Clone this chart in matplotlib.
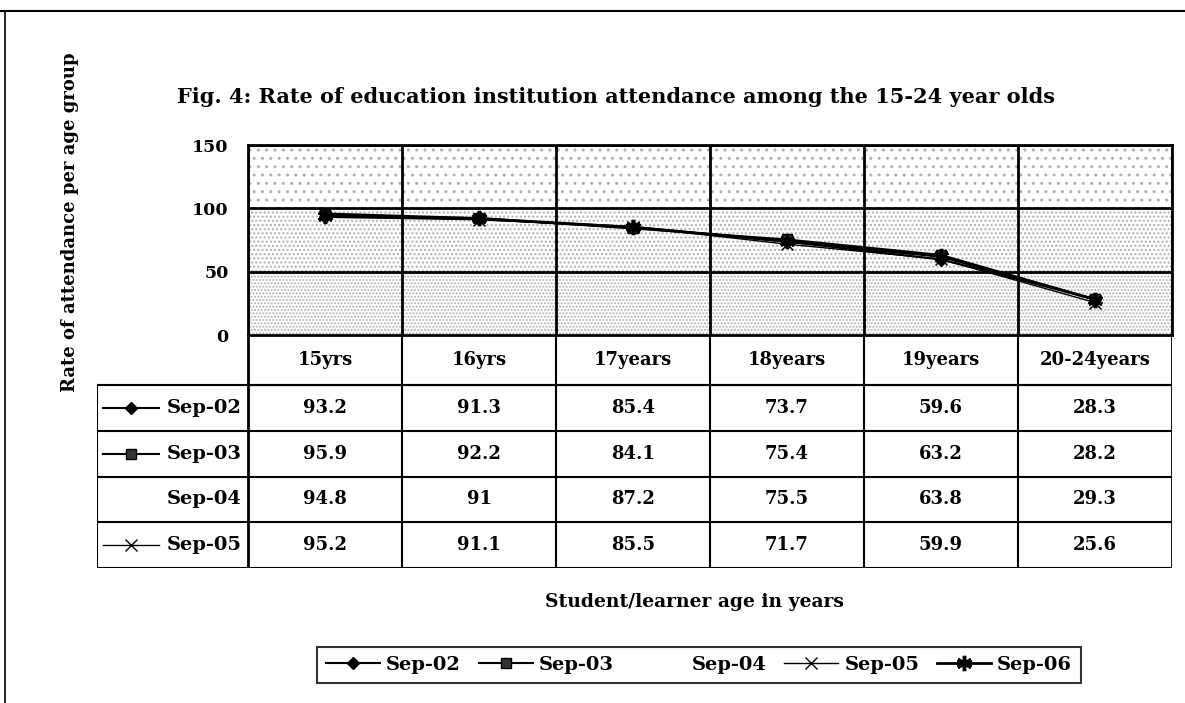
import matplotlib.pyplot as plt
from matplotlib.patches import Rectangle
from matplotlib.lines import Line2D

plt.rcParams['font.family'] = ['DejaVu Serif']
plt.rcParams['font.weight'] = 'bold'

ages = ['15yrs', '16yrs', '17years', '18years', '19years', '20-24years']
series_names = ['Sep-02', 'Sep-03', 'Sep-04', 'Sep-05', 'Sep-06']
sep02 = [93.2, 91.3, 85.4, 73.7, 59.6, 28.3]
sep03 = [95.9, 92.2, 84.1, 75.4, 63.2, 28.2]
sep04 = [94.8, 91, 87.2, 75.5, 63.8, 29.3]
sep05 = [95.2, 91.1, 85.5, 71.7, 59.9, 25.6]
sep06 = [94.0, 92.0, 85.0, 74.0, 62.0, 28.0]  # not in table
table_rows = ['Sep-02', 'Sep-03', 'Sep-04', 'Sep-05']
table_txt = [['93.2', '91.3', '85.4', '73.7', '59.6', '28.3'],
             ['95.9', '92.2', '84.1', '75.4', '63.2', '28.2'],
             ['94.8', '91', '87.2', '75.5', '63.8', '29.3'],
             ['95.2', '91.1', '85.5', '71.7', '59.9', '25.6']]

styles = {
    'Sep-02': dict(color='black', marker='D', ms=6, lw=1.5),
    'Sep-03': dict(color='black', marker='s', ms=7, mfc='#333333', lw=1.5),
    'Sep-04': dict(color='none', marker='None', lw=1.5),
    'Sep-05': dict(color='black', marker='x', ms=8, lw=1.0),
    'Sep-06': dict(color='black', marker=(6, 2, 0), ms=11, mew=2.5, lw=2.0),
}

W, H = 1185, 703
fig = plt.figure(figsize=(W / 100, H / 100), dpi=100)

# outer frame (top and left edges visible in the scan)
fig.add_artist(Line2D([0, 1], [1 - 11 / H, 1 - 11 / H], transform=fig.transFigure, color='black', lw=1.5))
fig.add_artist(Line2D([5 / W, 5 / W], [0, 1 - 11 / H], transform=fig.transFigure, color='black', lw=1.2))

# plot area in pixel units
px0, px1, py_top, py_bot = 248, 1172, 145, 335
ax = fig.add_axes([px0 / W, 1 - py_bot / H, (px1 - px0) / W, (py_bot - py_top) / H])
ax.set_xlim(-0.5, len(ages) - 0.5)
ax.set_ylim(0, 150)

# speckled background bands
for lo, hi, hatch in [(0, 50, '.....'), (50, 100, '....'), (100, 150, '..')]:
    ax.add_patch(Rectangle((-0.5, lo), len(ages), hi - lo, facecolor='white',
                           edgecolor='#b0b0b0', hatch=hatch, lw=0, zorder=0))

for y in [50, 100, 150]:
    ax.axhline(y, color='black', lw=2, zorder=1)
for i in range(len(ages) + 1):
    ax.axvline(i - 0.5, color='black', lw=2, zorder=1)

x = range(len(ages))
all_series = [sep02, sep03, sep04, sep05, sep06]
handles = []
for name, vals in zip(series_names, all_series):
    h, = ax.plot(x, vals, label=name, zorder=3, **styles[name])
    handles.append(h)

ax.set_yticks([0, 50, 100, 150])
ax.set_yticklabels(['0', '50', '100', '150'], fontsize=12.5, fontweight='bold')
ax.set_xticks([])
ax.tick_params(axis='y', length=0, pad=14)
for s in ax.spines.values():
    s.set_linewidth(2)

# data table below the plot
tx0, ty_top, ty_bot = 97, 335, 568
tax = fig.add_axes([tx0 / W, 1 - ty_bot / H, (px1 - tx0) / W, (ty_bot - ty_top) / H])
cw = (px1 - px0) / len(ages)
lab_w = (px0 - tx0) / cw
tax.set_xlim(-0.5 - lab_w, len(ages) - 0.5)
header_h = 50
row_h = (ty_bot - ty_top - header_h) / len(table_rows)
tax.set_ylim(ty_bot - ty_top, 0)
tax.axis('off')

lw = 1.5
for i in range(len(ages) + 1):
    tax.plot([i - 0.5, i - 0.5], [0, ty_bot - ty_top], color='black', lw=lw if 0 < i < len(ages) else 2)
tax.plot([-0.5, len(ages) - 0.5], [header_h, header_h], color='black', lw=lw)
for r in range(len(table_rows) + 1):
    yy = header_h + r * row_h
    tax.plot([-0.5 - lab_w, len(ages) - 0.5], [yy, yy], color='black', lw=lw)
tax.plot([-0.5 - lab_w, -0.5 - lab_w], [header_h, ty_bot - ty_top], color='black', lw=lw)

for i, a in enumerate(ages):
    tax.text(i, header_h / 2, a, ha='center', va='center', fontsize=13, fontweight='bold')
for r, (name, row) in enumerate(zip(table_rows, table_txt)):
    yc = header_h + (r + 0.5) * row_h
    for i, v in enumerate(row):
        tax.text(i, yc, v, ha='center', va='center', fontsize=13, fontweight='bold')
    tax.text(-0.5 - 0.04, yc, name, ha='right', va='center', fontsize=14, fontweight='bold')
    st = dict(styles[name])
    if st['color'] != 'none':
        xl0 = -0.5 - lab_w + 0.04
        tax.plot([xl0, xl0 + 0.36], [yc, yc], color='black', lw=st['lw'])
        st.pop('lw')
        tax.plot([xl0 + 0.18], [yc], linestyle='none', **st)

fig.text(70 / W, 1 - 222 / H, 'Rate of attendance per age group', rotation=90,
         ha='center', va='center', fontsize=13, fontweight='bold')
fig.text(616 / W, 1 - 97 / H, 'Fig. 4: Rate of education institution attendance among the 15-24 year olds',
         ha='center', va='center', fontsize=15, fontweight='bold')
fig.text(694 / W, 1 - 602 / H, 'Student/learner age in years', ha='center', va='center',
         fontsize=13.5, fontweight='bold')

leg = fig.legend(handles=handles, loc='center', bbox_to_anchor=(699 / W, 1 - 665 / H), ncol=5,
                 fontsize=14, frameon=True, fancybox=False, edgecolor='black',
                 handlelength=2.8, handletextpad=0.3, columnspacing=0.9, borderpad=0.45)
leg.get_frame().set_linewidth(1.5)

fig.savefig('out.png', dpi=100)
